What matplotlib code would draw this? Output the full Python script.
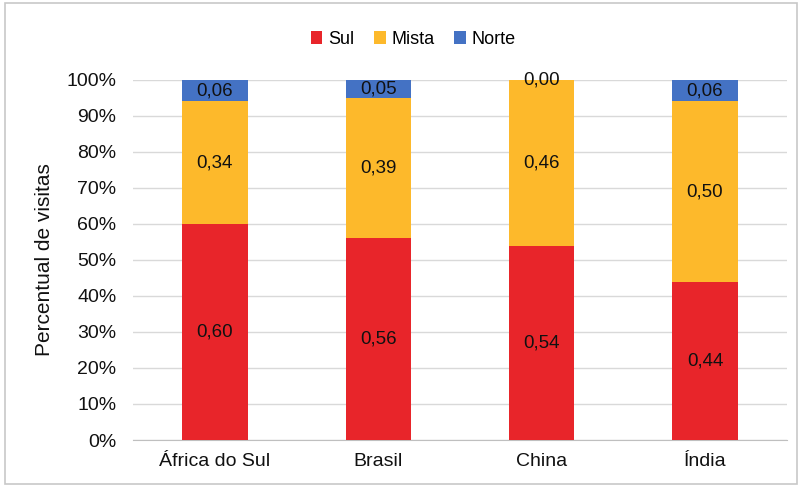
import numpy as np
import matplotlib.pyplot as plt
from matplotlib.patches import Rectangle

plt.rcParams['font.family'] = ['Liberation Sans', 'DejaVu Sans']

categorias = ['África do Sul', 'Brasil', 'China', 'Índia']
sul = [0.60, 0.56, 0.54, 0.44]
mista = [0.34, 0.39, 0.46, 0.50]
norte = [0.06, 0.05, 0.00, 0.06]

cores = {'Sul': '#E8252A', 'Mista': '#FDB92B', 'Norte': '#4472C4'}

fig = plt.figure(figsize=(8.02, 4.87), dpi=100)
ax = fig.add_axes([0.166, 0.0965, 0.815, 0.7395])

x = np.arange(len(categorias))
largura = 0.40
base = np.zeros(len(categorias))
for nome, vals in [('Sul', sul), ('Mista', mista), ('Norte', norte)]:
    vals = np.array(vals)
    ax.bar(x, vals, largura, bottom=base, color=cores[nome], label=nome, zorder=3)
    for xi, b, v in zip(x, base, vals):
        ax.text(xi, b + v / 2, f'{v:.2f}'.replace('.', ','),
                ha='center', va='center', fontsize=13.5, color='#111111', zorder=4)
    base += vals

ax.set_xlim(-0.5, len(categorias) - 0.5)
ax.set_ylim(0, 1.0)
ax.set_yticks(np.arange(0, 1.01, 0.1))
ax.set_yticklabels([f'{int(round(t * 100))}%' for t in np.arange(0, 1.01, 0.1)])
ax.set_xticks(x)
ax.set_xticklabels(categorias)
ax.tick_params(axis='both', length=0, labelsize=14, colors='#111111')
ax.tick_params(axis='y', pad=12)
ax.tick_params(axis='x', pad=9)
ax.grid(axis='y', color='#d9d9d9', linewidth=1, zorder=0)
for s in ['top', 'right', 'left']:
    ax.spines[s].set_visible(False)
ax.spines['bottom'].set_color('#bfbfbf')
ax.set_ylabel('Percentual de visitas', fontsize=15, color='#111111', labelpad=9)

fig.legend(loc='upper center', bbox_to_anchor=(0.515, 0.97), ncol=3, frameon=False,
           fontsize=13, handlelength=0.65, handleheight=0.65, handletextpad=0.3,
           columnspacing=1.1)

fig.patches.append(Rectangle((0.006, 0.006), 0.988, 0.988, transform=fig.transFigure,
                             fill=False, edgecolor='#c8c8c8', linewidth=1.2))

fig.savefig('out.png', dpi=100)
